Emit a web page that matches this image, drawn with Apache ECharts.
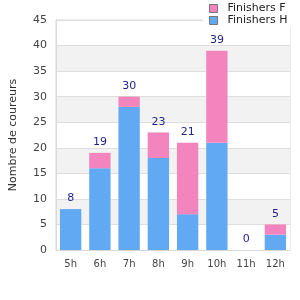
<!DOCTYPE html>
<html>
<head>
<meta charset="utf-8">
<script src="https://cdn.jsdelivr.net/npm/echarts@6/dist/echarts.min.js"></script>
<style>
  html, body { margin: 0; padding: 0; background: #fff; }
  #chart { width: 300px; height: 300px; }
</style>
</head>
<body>
<div id="chart"></div>
<script>
// données
const heures = ['5h', '6h', '7h', '8h', '9h', '10h', '11h', '12h']
const finishersH = [8, 16, 28, 18, 7, 21, 0, 3]
const finishersF = [0, 3, 2, 5, 14, 18, 0, 2]
const yTicks = [0, 45, 5] // min, max, pas

const totals = heures.map((h, i) => finishersH[i] + finishersF[i])

const chart = echarts.init(document.getElementById('chart'), null, { renderer: 'canvas' })

const legendItem = name => ({
  name,
  icon: 'rect',
  itemStyle: { borderColor: '#777', borderWidth: 1 }
})

chart.setOption({
  animation: false,
  textStyle: { fontFamily: 'DejaVu Sans' },
  grid: {
    left: 50,
    right: 10,
    top: 20,
    bottom: 50,
    show: true,
    borderColor: '#d9d9d9',
    borderWidth: 1
  },
  legend: {
    orient: 'vertical',
    left: 203,
    top: 0,
    padding: [3, 12, 1, 6],
    itemGap: 1,
    itemWidth: 8,
    itemHeight: 8,
    icon: 'rect',
    backgroundColor: '#fff',
    z: 10,
    data: [legendItem('Finishers F'), legendItem('Finishers H')],
    textStyle: { color: '#222', fontSize: 11, padding: [0, 0, 0, 5] }
  },
  xAxis: {
    type: 'category',
    data: heures,
    axisTick: { show: false },
    axisLine: { lineStyle: { color: '#d9d9d9' } },
    axisLabel: { color: '#444', fontSize: 10, margin: 9 }
  },
  yAxis: {
    type: 'value',
    min: yTicks[0],
    max: yTicks[1],
    interval: yTicks[2],
    name: 'Nombre de coureurs',
    nameLocation: 'middle',
    nameGap: 37,
    nameTextStyle: { color: '#333', fontSize: 11 },
    axisLine: { show: true, lineStyle: { color: '#d9d9d9' } },
    axisTick: { show: false },
    axisLabel: { color: '#444', fontSize: 11, margin: 9 },
    splitLine: { show: true, lineStyle: { color: '#dedede' } },
    splitArea: { show: true, areaStyle: { color: ['#ffffff', '#f2f2f2'] } }
  },
  series: [
    {
      name: 'Finishers H',
      type: 'bar',
      stack: 'total',
      barCategoryGap: '27%',
      itemStyle: { color: '#62a9f4' },
      data: finishersH
    },
    {
      name: 'Finishers F',
      type: 'bar',
      stack: 'total',
      itemStyle: { color: '#f384bd' },
      label: {
        show: true,
        position: 'top',
        distance: 5,
        color: '#1f1f8f',
        fontSize: 11,
        formatter: p => totals[p.dataIndex]
      },
      data: finishersF
    }
  ]
})
</script>
</body>
</html>
